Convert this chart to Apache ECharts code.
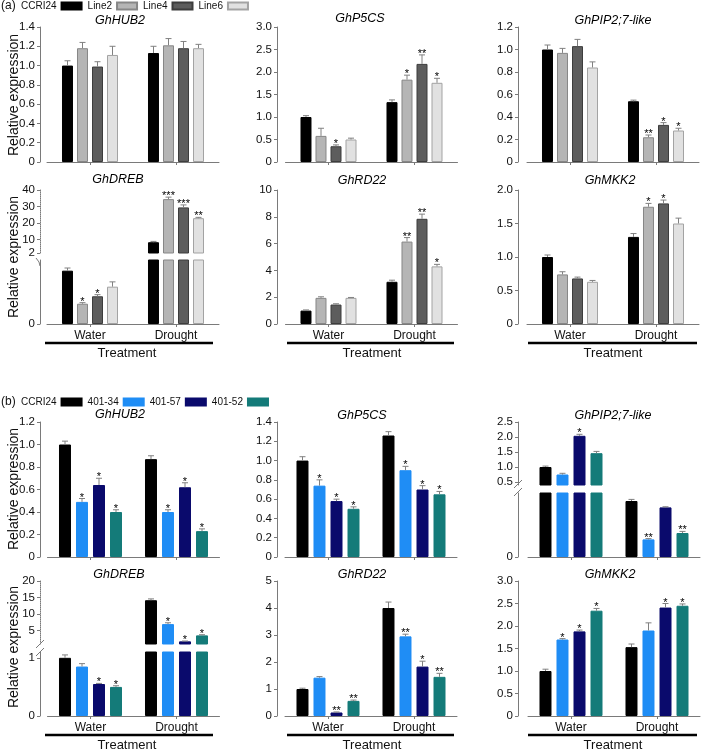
<!DOCTYPE html>
<html><head><meta charset="utf-8">
<script src="https://cdn.jsdelivr.net/npm/echarts@6/dist/echarts.min.js"></script>
<style>html,body{margin:0;padding:0;background:#fff}#c{width:709px;height:749px}</style>
</head><body><div id="c"></div>
<script>
// ---------- DATA ----------
const categories = ['Water', 'Drought'];
const seriesA = ['CCRI24', 'Line2', 'Line4', 'Line6'];
const seriesB = ['CCRI24', '401-34', '401-57', '401-52'];
// each array: [series][Water, Drought]
const aHUB2Mean = [[1.00, 1.13], [1.18, 1.21], [0.99, 1.18], [1.11, 1.18]];
const aHUB2Err  = [[0.05, 0.07], [0.06, 0.07], [0.05, 0.07], [0.09, 0.04]];
const aHUB2Sig  = [['', ''], ['', ''], ['', ''], ['', '']];
const aP5CSMean = [[1.00, 1.33], [0.58, 1.83], [0.35, 2.18], [0.50, 1.76]];
const aP5CSErr  = [[0.03, 0.05], [0.17, 0.10], [0.03, 0.20], [0.03, 0.10]];
const aP5CSSig  = [['', ''], ['', '*'], ['*', '**'], ['', '*']];
const aPIP2Mean = [[1.00, 0.54], [0.97, 0.22], [1.03, 0.33], [0.84, 0.28]];
const aPIP2Err  = [[0.04, 0.01], [0.04, 0.02], [0.06, 0.02], [0.05, 0.02]];
const aPIP2Sig  = [['', ''], ['', '**'], ['', '*'], ['', '*']];
const aDREBMean = [[1.00, 8.5], [0.38, 34.5], [0.52, 29.5], [0.70, 23.0]];
const aDREBErr  = [[0.05, 0.5], [0.02, 1.2], [0.03, 1.5], [0.09, 0.5]];
const aDREBSig  = [['', ''], ['*', '***'], ['*', '***'], ['', '**']];
const aRD22Mean = [[1.00, 3.15], [1.95, 6.15], [1.45, 7.85], [1.95, 4.30]];
const aRD22Err  = [[0.05, 0.12], [0.08, 0.30], [0.06, 0.35], [0.03, 0.15]];
const aRD22Sig  = [['', ''], ['', '**'], ['', '**'], ['', '*']];
const aMKK2Mean = [[1.00, 1.30], [0.74, 1.75], [0.68, 1.80], [0.63, 1.50]];
const aMKK2Err  = [[0.03, 0.05], [0.04, 0.05], [0.02, 0.05], [0.02, 0.08]];
const aMKK2Sig  = [['', ''], ['', '*'], ['', '*'], ['', '']];

const bHUB2Mean = [[1.00, 0.87], [0.49, 0.40], [0.64, 0.62], [0.40, 0.23]];
const bHUB2Err  = [[0.03, 0.03], [0.03, 0.02], [0.06, 0.04], [0.02, 0.02]];
const bHUB2Sig  = [['', ''], ['*', '*'], ['*', '*'], ['*', '*']];
const bP5CSMean = [[1.00, 1.26], [0.74, 0.90], [0.58, 0.70], [0.50, 0.65]];
const bP5CSErr  = [[0.04, 0.04], [0.06, 0.04], [0.02, 0.04], [0.02, 0.03]];
const bP5CSSig  = [['', ''], ['*', '*'], ['*', '*'], ['*', '*']];
const bPIP2Mean = [[1.00, 0.35], [0.75, 0.11], [2.04, 0.31], [1.46, 0.15]];
const bPIP2Err  = [[0.03, 0.01], [0.04, 0.005], [0.05, 0.004], [0.06, 0.01]];
const bPIP2Sig  = [['', ''], ['', '**'], ['*', ''], ['', '**']];
const bDREBMean = [[1.00, 14.2], [0.85, 7.0], [0.55, 1.8], [0.50, 3.6]];
const bDREBErr  = [[0.05, 0.4], [0.05, 0.4], [0.01, 0.1], [0.02, 0.2]];
const bDREBSig  = [['', ''], ['', '*'], ['*', '*'], ['*', '*']];
const bRD22Mean = [[1.00, 4.00], [1.42, 2.95], [0.13, 1.83], [0.56, 1.45]];
const bRD22Err  = [[0.03, 0.22], [0.04, 0.08], [0.02, 0.20], [0.03, 0.13]];
const bRD22Sig  = [['', ''], ['', '**'], ['**', '*'], ['**', '**']];
const bMKK2Mean = [[1.00, 1.53], [1.70, 1.90], [1.88, 2.41], [2.34, 2.45]];
const bMKK2Err  = [[0.04, 0.07], [0.02, 0.17], [0.03, 0.09], [0.05, 0.04]];
const bMKK2Sig  = [['', ''], ['*', ''], ['*', '*'], ['*', '*']];

// ---------- STYLE / LAYOUT ----------
const FONT = 'Liberation Sans';
const pal = {
  A: { names: seriesA, colors: ['#000000', '#b5b5b5', '#5d5d5d', '#e1e1e1'], borders: ['#000000', '#878787', '#3d3d3d', '#a3a3a3'], bw: 11, pitch: 15 },
  B: { names: seriesB, colors: ['#000000', '#1f8df5', '#0a0a6c', '#147b79'], borders: ['#000000', '#1f8df5', '#0a0a6c', '#147b79'], bw: 12, pitch: 17 }
};
const BAND = 86;

const panels = [
  { g: 'GhHUB2', p: 'A', mean: aHUB2Mean, err: aHUB2Err, sig: aHUB2Sig, ax: 40, c0: 90, secs: [{ top: 27, bottom: 162, min: 0, max: 1.4, interval: 0.2, dec: 1 }], xl: false, ty: 21, tx: 120 },
  { g: 'GhP5CS', p: 'A', mean: aP5CSMean, err: aP5CSErr, sig: aP5CSSig, ax: 277, c0: 328.5, secs: [{ top: 27, bottom: 162, min: 0, max: 3.0, interval: 0.5, dec: 1 }], xl: false, ty: 19, tx: 360 },
  { g: 'GhPIP2;7-like', p: 'A', mean: aPIP2Mean, err: aPIP2Err, sig: aPIP2Sig, ax: 518, c0: 570, secs: [{ top: 27, bottom: 162, min: 0, max: 1.2, interval: 0.2, dec: 1 }], xl: false, ty: 21, tx: 613 },
  { g: 'GhDREB', p: 'A', mean: aDREBMean, err: aDREBErr, sig: aDREBSig, ax: 40, c0: 90, secs: [
      { top: 190, bottom: 253, min: 2, max: 40, labels: [2, 10, 20, 30, 40], dec: 0, dotted: true },
      { top: 260, bottom: 324, min: 0, max: 1.2, labels: [0], dec: 0 }], xl: true, ty: 180, tx: 118 },
  { g: 'GhRD22', p: 'A', mean: aRD22Mean, err: aRD22Err, sig: aRD22Sig, ax: 277, c0: 328.5, secs: [{ top: 190, bottom: 324, min: 0, max: 10, interval: 2, dec: 0 }], xl: true, ty: 181, tx: 362 },
  { g: 'GhMKK2', p: 'A', mean: aMKK2Mean, err: aMKK2Err, sig: aMKK2Sig, ax: 518, c0: 570, secs: [{ top: 190, bottom: 324, min: 0, max: 2.0, interval: 0.5, dec: 1 }], xl: true, ty: 181, tx: 610 },

  { g: 'GhHUB2', p: 'B', mean: bHUB2Mean, err: bHUB2Err, sig: bHUB2Sig, ax: 40, c0: 90.5, secs: [{ top: 422, bottom: 557, min: 0, max: 1.2, interval: 0.2, dec: 1 }], xl: false, ty: 415, tx: 120 },
  { g: 'GhP5CS', p: 'B', mean: bP5CSMean, err: bP5CSErr, sig: bP5CSSig, ax: 277, c0: 328, secs: [{ top: 422, bottom: 557, min: 0, max: 1.4, interval: 0.2, dec: 1 }], xl: false, ty: 416, tx: 362 },
  { g: 'GhPIP2;7-like', p: 'B', mean: bPIP2Mean, err: bPIP2Err, sig: bPIP2Sig, ax: 518, c0: 571, secs: [
      { top: 422, bottom: 485, min: 0.4, max: 2.5, labels: [0.5, 1, 1.5, 2, 2.5], dec: 1 },
      { top: 493, bottom: 557, min: 0, max: 0.4, labels: [0], dec: 0 }], xl: false, ty: 416, tx: 613 },
  { g: 'GhDREB', p: 'B', mean: bDREBMean, err: bDREBErr, sig: bDREBSig, ax: 40, c0: 90.5, secs: [
      { top: 581, bottom: 644, min: 1, max: 20, labels: [5, 10, 15, 20], dec: 0, dotted: true },
      { top: 652, bottom: 716, min: 0, max: 1.1, labels: [0, 1], dec: 0 }], xl: true, ty: 575, tx: 119 },
  { g: 'GhRD22', p: 'B', mean: bRD22Mean, err: bRD22Err, sig: bRD22Sig, ax: 277, c0: 328, secs: [{ top: 581, bottom: 716, min: 0, max: 5, interval: 1, dec: 0 }], xl: true, ty: 575, tx: 362 },
  { g: 'GhMKK2', p: 'B', mean: bMKK2Mean, err: bMKK2Err, sig: bMKK2Sig, ax: 518, c0: 571, secs: [{ top: 581, bottom: 716, min: 0, max: 3.0, interval: 0.5, dec: 1 }], xl: true, ty: 575, tx: 610 }
];

const option = { animation: false, grid: [], xAxis: [], yAxis: [], series: [], graphic: [], legend: [] };

panels.forEach(P => {
  const st = pal[P.p];
  const left = P.c0 - BAND / 2;
  const nsec = P.secs.length;
  P.secs.forEach((sec, k) => {
    const gi = option.grid.length;
    const isBottom = k === nsec - 1;
    option.grid.push({ left: left, top: sec.top, width: 2 * BAND, height: sec.bottom - sec.top });
    option.xAxis.push({
      type: 'category', gridIndex: gi, data: categories, show: isBottom,
      axisLine: { show: true, lineStyle: { color: '#7a7a7a', width: 1 } },
      axisTick: { show: true, alignWithLabel: true, length: 3, lineStyle: { color: '#7a7a7a' } },
      axisLabel: { show: P.xl, color: '#111', fontSize: 12, fontFamily: FONT, margin: 6 }
    });
    const dec = sec.dec;
    const y = {
      type: 'value', gridIndex: gi, min: sec.min, max: sec.max,
      offset: left - P.ax,
      axisLine: { show: true, lineStyle: { color: '#7a7a7a', width: 1, type: sec.dotted ? 'dotted' : 'solid' } },
      axisTick: { show: true, length: 3, lineStyle: { color: '#7a7a7a' } },
      splitLine: { show: false },
      axisLabel: { color: '#111', fontSize: 11.5, fontFamily: FONT, margin: 5,
        formatter: v => (v === 0 ? '0' : v.toFixed(dec)) }
    };
    if (sec.labels) {
      y.axisLabel.customValues = sec.labels;
      y.axisTick.customValues = sec.labels;
    } else {
      y.interval = sec.interval;
    }
    option.yAxis.push(y);

    st.names.forEach((nm, s) => {
      option.series.push({
        type: 'bar', name: nm, xAxisIndex: gi, yAxisIndex: gi, clip: true,
        data: P.mean[s].map(v => (v > sec.min ? v : '-')),
        barWidth: st.bw, barGap: ((st.pitch - st.bw) / st.bw * 100).toFixed(1) + '%',
        itemStyle: { color: st.colors[s], borderColor: st.borders[s], borderWidth: 1 },
        emphasis: { disabled: true }
      });
    });

    // error bars + significance marks
    const ed = [], sigs = [];
    st.names.forEach((nm, s) => {
      categories.forEach((c, ci) => {
        const v = P.mean[s][ci], e = P.err[s][ci];
        let inThis;
        if (nsec === 1) inThis = true;
        else {
          const lowMax = P.secs[1].max;
          inThis = (k === 1) ? (v + e <= lowMax) : (v + e > lowMax);
        }
        if (inThis) { ed.push([ci, v, e, s]); sigs.push(P.sig[s][ci]); }
      });
    });
    const pitch = st.pitch;
    option.series.push({
      type: 'custom', xAxisIndex: gi, yAxisIndex: gi, data: ed, z: 5, silent: true,
      renderItem: (params, api) => {
        const ci = api.value(0), v = api.value(1), e = api.value(2), s = api.value(3);
        const p0 = api.coord([ci, v]);
        const p1 = api.coord([ci, v + e]);
        const x = p0[0] + (s - 1.5) * pitch;
        const ch = [];
        ch.push({ type: 'line', shape: { x1: x, y1: p0[1], x2: x, y2: p1[1] }, style: { stroke: '#808080', lineWidth: 1 } });
        ch.push({ type: 'line', shape: { x1: x - 3, y1: p1[1], x2: x + 3, y2: p1[1] }, style: { stroke: '#808080', lineWidth: 1 } });
        const sg = sigs[params.dataIndex];
        if (sg) ch.push({ type: 'text', style: { text: sg, x: x, y: p1[1] - 1, align: 'center', verticalAlign: 'middle', font: '11px "Liberation Sans"', fill: '#000' } });
        return { type: 'group', children: ch };
      }
    });
  });
  option.graphic.push({ type: 'text', x: P.tx, y: P.ty, style: { text: P.g, align: 'center', verticalAlign: 'middle', font: 'italic 12.5px "Liberation Sans"', fill: '#000' } });
});

// legends
const legendBase = { align: 'right', icon: 'rect', itemWidth: 20, itemHeight: 7, itemGap: 5, selectedMode: false, padding: 0,
  textStyle: { fontSize: 10, fontFamily: FONT, color: '#111' } };
option.legend.push(Object.assign({}, legendBase, { left: 21, top: 1, data: seriesA }));
option.legend.push(Object.assign({}, legendBase, { left: 21, top: 397, data: seriesB }));

// labels, treatment lines and break marks
const G = option.graphic;
G.push({ type: 'text', x: 1, y: 6, style: { text: '(a)', verticalAlign: 'middle', font: '12px "Liberation Sans"', fill: '#111' } });
G.push({ type: 'text', x: 1, y: 402, style: { text: '(b)', verticalAlign: 'middle', font: '12px "Liberation Sans"', fill: '#111' } });
[95, 257, 489, 647].forEach(yc => {
  G.push({ type: 'text', x: 14, y: yc, rotation: Math.PI / 2, style: { text: 'Relative expression', align: 'center', verticalAlign: 'middle', font: '14px "Liberation Sans"', fill: '#111' } });
});
[[343, 353], [735, 745]].forEach(([ly, ty]) => {
  [[45, 213, 127], [287, 454, 372], [528, 697, 613]].forEach(([x1, x2, tx]) => {
    G.push({ type: 'line', shape: { x1: x1, y1: ly, x2: x2, y2: ly }, style: { stroke: '#000', lineWidth: 2.5 } });
    G.push({ type: 'text', x: tx, y: ty, style: { text: 'Treatment', align: 'center', verticalAlign: 'middle', font: '13px "Liberation Sans"', fill: '#111' } });
  });
});
// break marks
G.push({ type: 'polyline', shape: { points: [[40, 266], [39, 262], [36, 258]] }, style: { stroke: '#7a7a7a', lineWidth: 1, fill: null } });
G.push({ type: 'line', shape: { x1: 514, y1: 488, x2: 522, y2: 480 }, style: { stroke: '#7a7a7a', lineWidth: 1 } });
G.push({ type: 'line', shape: { x1: 514, y1: 496, x2: 522, y2: 488 }, style: { stroke: '#7a7a7a', lineWidth: 1 } });
G.push({ type: 'line', shape: { x1: 36, y1: 648, x2: 44, y2: 640 }, style: { stroke: '#7a7a7a', lineWidth: 1 } });
G.push({ type: 'line', shape: { x1: 36, y1: 656, x2: 44, y2: 648 }, style: { stroke: '#7a7a7a', lineWidth: 1 } });

const chart = echarts.init(document.getElementById('c'), null, { renderer: 'canvas' });
chart.setOption(option);
</script>
</body></html>
